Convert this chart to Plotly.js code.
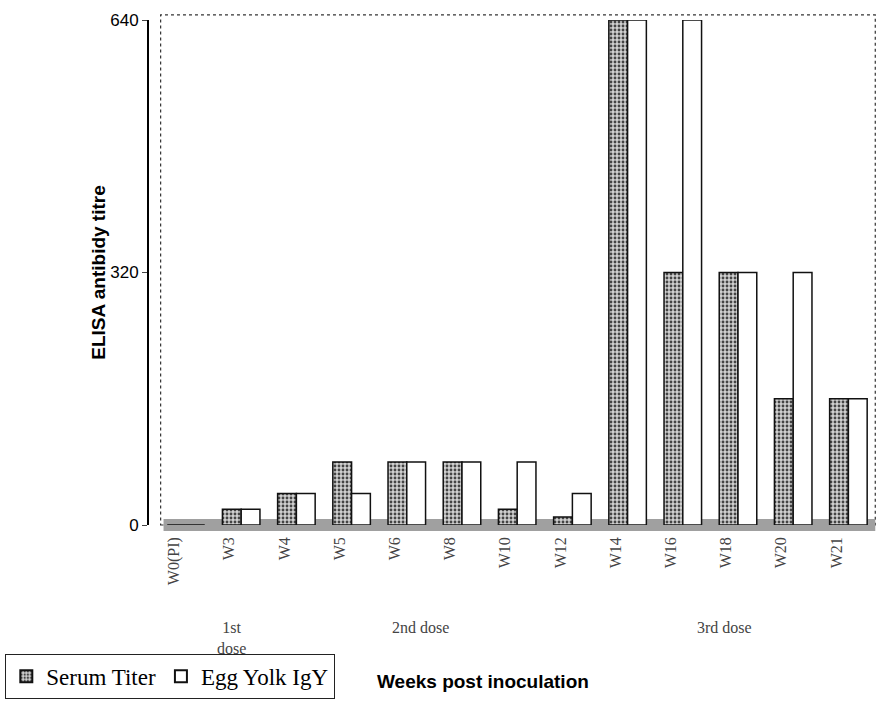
<!DOCTYPE html>
<html>
<head>
<meta charset="utf-8">
<script src="https://cdn.plot.ly/plotly-3.0.1.min.js"></script>
<style>html,body{margin:0;padding:0;background:#fff;}#chart{width:882px;height:726px;}</style>
</head>
<body>
<div id="chart"></div>
<script>
const weeks = ["W0(PI)","W3","W4","W5","W6","W8","W10","W12","W14","W16","W18","W20","W21"];
const serumTiter = [0,20,40,80,80,80,20,10,640,320,320,160,160];
const eggYolkIgY = [0,20,40,40,80,80,80,40,640,640,320,320,160];
const yTicks = [0,320,640];
const doseLabels = [
  {text:"1st<br>dose", at:0.83},
  {text:"2nd dose", at:4.25},
  {text:"3rd dose", at:9.76}
];

const serif = "Liberation Serif, Times New Roman, serif";
const sans = "Liberation Sans, Arial, sans-serif";

const traces = [
  {
    type:"bar", name:"Serum Titer", x:weeks, y:serumTiter,
    marker:{color:"#d0d0d0", line:{color:"#111", width:1.5},
      pattern:{shape:".", fgcolor:"#444", bgcolor:"#d0d0d0", size:4, solidity:0.4}}
  },
  {
    type:"bar", name:"Egg Yolk IgY", x:weeks, y:eggYolkIgY,
    marker:{color:"#ffffff", line:{color:"#111", width:1.5}}
  }
];

const annotations = doseLabels.map(d => ({
  x:d.at, y:0, xref:"x", yref:"paper", yanchor:"top", yshift:-92,
  text:d.text, showarrow:false, font:{family:serif, size:16, color:"#444"}
}));
annotations.push({
  x:0.46, xref:"paper", y:-0.31, yref:"paper", yanchor:"middle",
  text:"<b>Weeks post inoculation</b>", showarrow:false,
  font:{family:sans, size:19, color:"#000"}
});

const layout = {
  width:882, height:726,
  margin:{l:148, r:6, t:20, b:201},
  paper_bgcolor:"#fff", plot_bgcolor:"#fff",
  barmode:"group", bargap:0.32, bargroupgap:0,
  showlegend:true,
  legend:{orientation:"h", x:-0.196, y:-0.255, xanchor:"left", yanchor:"top",
    font:{family:serif, size:23, color:"#000"}, bordercolor:"#222", borderwidth:1,
    itemsizing:"constant", tracegroupgap:0, itemwidth:30},
  xaxis:{type:"category", range:[-0.67,12.5], tickangle:-90,
    tickfont:{family:serif, size:16, color:"#444"}, showline:false, ticks:"",
    ticklabelshift:-12, ticklabelstandoff:8,
    showgrid:false, zeroline:false, automargin:false},
  yaxis:{range:[0,640], tickvals:yTicks, ticktext:yTicks.map(String),
    tickfont:{family:sans, size:17, color:"#000"}, ticks:"outside", ticklen:5,
    showline:true, linecolor:"#000", linewidth:2, showgrid:false, zeroline:false,
    title:{text:"<b>ELISA antibidy titre</b>", font:{family:sans, size:19, color:"#000"}, standoff:0},
    automargin:false},
  shapes:[
    {type:"rect", xref:"paper", yref:"paper", x0:0.016, x1:0.999, y0:0.0, y1:1.01,
      line:{color:"#333", width:1.2, dash:"dot"}, fillcolor:"rgba(0,0,0,0)", layer:"below"},
    {type:"rect", xref:"paper", yref:"paper", x0:0.02, x1:0.999, y0:-0.012, y1:0.012,
      line:{width:0}, fillcolor:"#a0a0a0", layer:"below"}
  ],
  annotations:annotations
};

Plotly.newPlot("chart", traces, layout, {displayModeBar:false, staticPlot:true});
</script>
</body>
</html>
